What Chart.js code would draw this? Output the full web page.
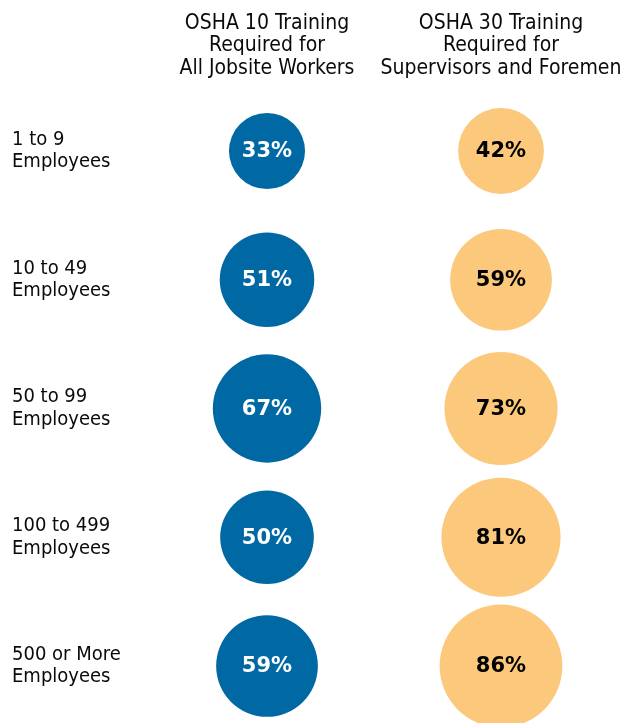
<!DOCTYPE html>
<html>
<head>
<meta charset="utf-8">
<script src="https://cdn.jsdelivr.net/npm/chart.js@4"></script>
<style>
  html, body { margin: 0; padding: 0; background: #fff; }
  #wrap { width: 628px; height: 723px; }
</style>
</head>
<body>
<div id="wrap"><canvas id="chart" width="628" height="723"></canvas></div>
<script>
// columns: training requirement
const programs = [
    ['OSHA 10 Training', 'Required for', 'All Jobsite Workers'],
    ['OSHA 30 Training', 'Required for', 'Supervisors and Foremen']
];
// rows: company size
const companySizes = [
    ['1 to 9', 'Employees'],
    ['10 to 49', 'Employees'],
    ['50 to 99', 'Employees'],
    ['100 to 499', 'Employees'],
    ['500 or More', 'Employees']
];
// percent of companies
const osha10Share = [33, 51, 67, 50, 59];
const osha30Share = [42, 59, 73, 81, 86];

const BLUE = '#0068a3';
const ORANGE = '#fbc87c';
const TEXT_FONT = "'DejaVu Sans Condensed', 'Liberation Sans Narrow', 'DejaVu Sans', sans-serif";
const PX_PER_SQRT = 6.62; // circle area follows the percentage

const toPoints = (values, col) => values.map((v, row) => ({ x: col, y: row, r: PX_PER_SQRT * Math.sqrt(v), v }));
const indexTicks = list => s => { s.ticks = list.map((_, i) => ({ value: i })); };

const bubbleLabels = {
    id: 'bubbleLabels',
    afterDatasetsDraw(chart) {
        const ctx = chart.ctx;
        ctx.save();
        ctx.font = "bold 21px 'DejaVu Sans', sans-serif";
        ctx.textAlign = 'center';
        ctx.textBaseline = 'middle';
        chart.data.datasets.forEach((ds, di) => {
            chart.getDatasetMeta(di).data.forEach((el, i) => {
                ctx.fillStyle = ds.labelColor;
                ctx.fillText(ds.data[i].v + '%', el.x, el.y + 1);
            });
        });
        ctx.restore();
    }
};

new Chart(document.getElementById('chart'), {
    type: 'bubble',
    data: {
        datasets: [
            { data: toPoints(osha10Share, 0), backgroundColor: BLUE, borderWidth: 0, labelColor: '#fff', clip: false },
            { data: toPoints(osha30Share, 1), backgroundColor: ORANGE, borderWidth: 0, labelColor: '#000', clip: false }
        ]
    },
    plugins: [bubbleLabels],
    options: {
        responsive: false,
        animation: false,
        events: [],
        layout: { autoPadding: false, padding: { top: 10, left: 12, right: 10, bottom: 57 } },
        plugins: { legend: { display: false }, tooltip: { enabled: false } },
        scales: {
            x: {
                type: 'linear',
                position: 'top',
                min: -0.5,
                max: 1.5,
                afterBuildTicks: indexTicks(programs),
                grid: { display: false, drawTicks: false },
                border: { display: false },
                ticks: {
                    color: '#0a0a0a',
                    padding: 71.5,
                    maxRotation: 0,
                    autoSkip: false,
                    callback: v => programs[v],
                    font: { family: TEXT_FONT, size: 21, lineHeight: '22.5px' }
                },
                afterFit(s) { s.height = 141; s.paddingLeft = 0; s.paddingRight = 0; }
            },
            y: {
                type: 'linear',
                reverse: true,
                min: 0,
                max: 4,
                afterBuildTicks: indexTicks(companySizes),
                grid: { display: false, drawTicks: false },
                border: { display: false },
                ticks: {
                    color: '#0a0a0a',
                    crossAlign: 'far',
                    padding: 0,
                    autoSkip: false,
                    callback: v => companySizes[v],
                    font: { family: TEXT_FONT, size: 20, lineHeight: '22.5px' }
                },
                afterFit(s) { s.width = 138; s.paddingTop = 0; s.paddingBottom = 0; }
            }
        }
    }
});
</script>
</body>
</html>
